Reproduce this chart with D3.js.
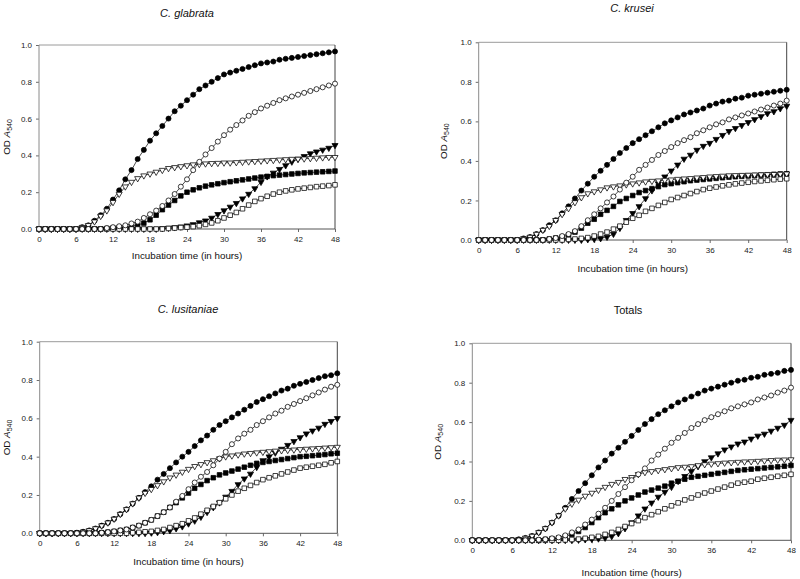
<!DOCTYPE html>
<html><head><meta charset="utf-8">
<script src="https://cdn.jsdelivr.net/npm/d3@7/dist/d3.min.js"></script>
<style>
html,body{margin:0;padding:0;background:#fff;}
svg{display:block;font-family:"Liberation Sans",Arial,Helvetica,sans-serif;}
</style></head>
<body>
<svg id="chart" width="800" height="579"></svg>
<script>
// ---------------- data ----------------
const hours = [0,1,2,3,4,5,6,7,8,9,10,11,12,13,14,15,16,17,18,19,20,21,22,23,24,
  25,26,27,28,29,30,31,32,33,34,35,36,37,38,39,40,41,42,43,44,45,46,47,48];
const xTicks = [0,6,12,18,24,30,36,42,48];
const yTicks = [0,0.2,0.4,0.6,0.8,1.0];

// C. glabrata
const glabrataFilledCircle = [0,0,0,0,0,0,0,0.01,0.02,0.045,0.075,0.11,
  0.16,0.21,0.27,0.32,0.38,0.43,0.48,0.52,0.56,0.60,0.64,0.67,
  0.70,0.73,0.76,0.78,0.80,0.82,0.84,0.85,0.86,0.87,0.88,0.89,
  0.90,0.905,0.91,0.92,0.925,0.93,0.935,0.94,0.945,0.95,0.955,0.96,0.965];
const glabrataOpenCircle = [0,0,0,0,0,0,0,0,0,0,0,0.005,
  0.01,0.015,0.02,0.03,0.04,0.06,0.08,0.10,0.125,0.155,0.19,0.23,
  0.27,0.32,0.365,0.405,0.44,0.475,0.51,0.54,0.565,0.59,0.615,0.635,
  0.655,0.67,0.685,0.70,0.71,0.72,0.73,0.74,0.75,0.76,0.77,0.78,0.79];
const glabrataFilledTriangle = [0,0,0,0,0,0,0,0,0,0,0,0,
  0,0,0,0,0,0,0,0,0.003,0.005,0.008,0.012,
  0.018,0.025,0.035,0.045,0.06,0.08,0.10,0.12,0.14,0.165,0.19,0.22,
  0.255,0.285,0.305,0.325,0.345,0.365,0.38,0.395,0.41,0.42,0.43,0.44,0.455];
const glabrataOpenTriangle = [0,0,0,0,0,0,0,0.01,0.02,0.04,0.07,0.10,
  0.145,0.19,0.23,0.255,0.275,0.29,0.30,0.31,0.32,0.33,0.335,0.34,
  0.345,0.35,0.352,0.355,0.357,0.358,0.36,0.36,0.362,0.364,0.366,0.368,
  0.37,0.372,0.374,0.376,0.378,0.38,0.381,0.382,0.384,0.386,0.388,0.39,0.39];
const glabrataFilledSquare = [0,0,0,0,0,0,0,0,0,0,0,0.003,
  0.005,0.008,0.01,0.015,0.022,0.032,0.05,0.075,0.105,0.13,0.155,0.18,
  0.2,0.213,0.224,0.233,0.24,0.246,0.252,0.257,0.262,0.267,0.272,0.277,
  0.282,0.286,0.29,0.293,0.296,0.299,0.302,0.305,0.307,0.309,0.311,0.313,0.315];
const glabrataOpenSquare = [0,0,0,0,0,0,0,0,0,0,0,0,
  0,0,0,0,0,0,0,0,0,0.003,0.005,0.008,
  0.01,0.013,0.018,0.025,0.033,0.045,0.06,0.075,0.09,0.11,0.13,0.15,
  0.165,0.178,0.19,0.2,0.207,0.213,0.218,0.222,0.226,0.23,0.233,0.236,0.24];

// C. krusei
const kruseiFilledCircle = [0,0,0,0,0,0,0,0.008,0.015,0.03,0.05,0.075,
  0.10,0.135,0.17,0.21,0.25,0.285,0.32,0.35,0.38,0.41,0.44,0.465,
  0.49,0.51,0.53,0.55,0.57,0.59,0.605,0.62,0.635,0.645,0.655,0.665,
  0.68,0.69,0.70,0.705,0.715,0.72,0.73,0.735,0.74,0.745,0.75,0.755,0.76];
const kruseiOpenCircle = [0,0,0,0,0,0,0,0,0,0,0,0.005,
  0.01,0.02,0.03,0.045,0.07,0.10,0.13,0.16,0.19,0.22,0.255,0.29,
  0.32,0.355,0.38,0.405,0.43,0.45,0.47,0.49,0.505,0.52,0.54,0.555,
  0.57,0.585,0.595,0.61,0.62,0.63,0.64,0.65,0.66,0.67,0.68,0.69,0.705];
const kruseiFilledTriangle = [0,0,0,0,0,0,0,0,0,0,0,0,
  0,0,0,0,0,0.003,0.005,0.008,0.015,0.03,0.06,0.10,
  0.135,0.17,0.21,0.25,0.285,0.32,0.35,0.38,0.41,0.43,0.455,0.475,
  0.49,0.51,0.53,0.55,0.565,0.58,0.595,0.61,0.625,0.64,0.65,0.665,0.678];
const kruseiOpenTriangle = [0,0,0,0,0,0,0,0.008,0.015,0.03,0.05,0.07,
  0.10,0.13,0.16,0.19,0.215,0.235,0.245,0.255,0.265,0.27,0.275,0.28,
  0.285,0.29,0.295,0.298,0.30,0.303,0.305,0.308,0.31,0.312,0.315,0.317,
  0.32,0.322,0.324,0.326,0.327,0.328,0.329,0.33,0.331,0.332,0.333,0.334,0.335];
const kruseiFilledSquare = [0,0,0,0,0,0,0,0,0,0,0,0.005,
  0.01,0.015,0.025,0.04,0.06,0.085,0.105,0.13,0.15,0.17,0.195,0.21,
  0.225,0.24,0.25,0.26,0.27,0.28,0.285,0.29,0.295,0.30,0.303,0.306,
  0.309,0.312,0.315,0.318,0.32,0.322,0.324,0.326,0.328,0.33,0.332,0.334,0.335];
const kruseiOpenSquare = [0,0,0,0,0,0,0,0,0,0,0,0,
  0,0,0.003,0.005,0.008,0.012,0.02,0.03,0.04,0.055,0.07,0.09,
  0.11,0.125,0.145,0.16,0.175,0.19,0.205,0.215,0.225,0.235,0.245,0.255,
  0.262,0.268,0.274,0.279,0.284,0.288,0.292,0.296,0.299,0.302,0.305,0.308,0.31];

// C. lusitaniae
const lusitaniaeFilledCircle = [0,0,0,0,0,0,0.003,0.008,0.015,0.025,0.04,0.055,
  0.075,0.10,0.125,0.155,0.185,0.215,0.245,0.28,0.31,0.34,0.37,0.40,
  0.425,0.455,0.485,0.51,0.54,0.565,0.585,0.605,0.625,0.645,0.665,0.685,
  0.70,0.715,0.73,0.745,0.755,0.77,0.78,0.79,0.80,0.81,0.82,0.825,0.835];
const lusitaniaeOpenCircle = [0,0,0,0,0,0,0,0,0,0,0.003,0.006,
  0.01,0.015,0.02,0.03,0.04,0.055,0.07,0.09,0.11,0.135,0.165,0.195,
  0.23,0.265,0.295,0.32,0.355,0.39,0.425,0.465,0.495,0.52,0.54,0.565,
  0.585,0.605,0.625,0.64,0.66,0.675,0.69,0.705,0.72,0.735,0.75,0.765,0.775];
const lusitaniaeFilledTriangle = [0,0,0,0,0,0,0,0,0,0,0,0,
  0,0,0,0,0,0,0.003,0.005,0.01,0.015,0.025,0.035,
  0.05,0.065,0.085,0.11,0.135,0.16,0.19,0.22,0.255,0.285,0.31,0.345,
  0.38,0.40,0.42,0.44,0.46,0.48,0.50,0.52,0.535,0.55,0.57,0.585,0.60];
const lusitaniaeOpenTriangle = [0,0,0,0,0,0,0.003,0.008,0.015,0.025,0.04,0.055,
  0.075,0.10,0.125,0.155,0.185,0.21,0.23,0.25,0.27,0.29,0.305,0.32,
  0.335,0.35,0.36,0.37,0.38,0.39,0.40,0.405,0.41,0.415,0.418,0.421,
  0.424,0.427,0.43,0.432,0.434,0.436,0.438,0.44,0.442,0.444,0.446,0.448,0.45];
const lusitaniaeFilledSquare = [0,0,0,0,0,0,0,0,0,0,0.003,0.006,
  0.01,0.015,0.02,0.03,0.04,0.055,0.07,0.09,0.11,0.135,0.16,0.185,
  0.21,0.235,0.255,0.275,0.29,0.305,0.315,0.325,0.335,0.345,0.355,0.365,
  0.37,0.375,0.38,0.385,0.39,0.395,0.40,0.402,0.405,0.408,0.411,0.415,0.418];
const lusitaniaeOpenSquare = [0,0,0,0,0,0,0,0,0,0,0,0,
  0,0,0,0.003,0.005,0.008,0.01,0.015,0.02,0.03,0.04,0.05,
  0.065,0.08,0.10,0.12,0.14,0.16,0.18,0.20,0.22,0.235,0.25,0.265,
  0.28,0.29,0.30,0.31,0.32,0.33,0.34,0.345,0.35,0.355,0.36,0.368,0.375];

// Totals
const totalsFilledCircle = [0,0,0,0,0,0,0,0.005,0.012,0.022,0.04,0.06,
  0.09,0.125,0.165,0.21,0.25,0.29,0.33,0.37,0.405,0.44,0.47,0.50,
  0.53,0.56,0.59,0.615,0.64,0.66,0.68,0.70,0.715,0.73,0.745,0.76,
  0.77,0.78,0.79,0.80,0.81,0.815,0.825,0.83,0.84,0.845,0.85,0.86,0.865];
const totalsOpenCircle = [0,0,0,0,0,0,0,0,0,0,0.003,0.005,
  0.01,0.015,0.025,0.04,0.055,0.08,0.105,0.135,0.165,0.2,0.235,0.27,
  0.305,0.335,0.365,0.405,0.435,0.465,0.495,0.52,0.545,0.57,0.59,0.61,
  0.625,0.64,0.655,0.67,0.68,0.69,0.70,0.715,0.725,0.735,0.75,0.76,0.775];
const totalsFilledTriangle = [0,0,0,0,0,0,0,0,0,0,0,0,
  0,0,0,0,0.002,0.004,0.006,0.008,0.012,0.02,0.035,0.06,
  0.09,0.125,0.16,0.19,0.22,0.245,0.27,0.30,0.325,0.35,0.375,0.40,
  0.42,0.44,0.46,0.475,0.49,0.50,0.515,0.53,0.54,0.555,0.57,0.585,0.61];
const totalsOpenTriangle = [0,0,0,0,0,0,0,0.005,0.012,0.022,0.04,0.06,
  0.09,0.125,0.16,0.185,0.205,0.225,0.24,0.255,0.27,0.285,0.295,0.31,
  0.32,0.335,0.345,0.35,0.355,0.36,0.365,0.37,0.372,0.375,0.38,0.385,
  0.388,0.39,0.393,0.395,0.397,0.399,0.40,0.402,0.404,0.406,0.408,0.409,0.41];
const totalsFilledSquare = [0,0,0,0,0,0,0,0,0,0,0,0.005,
  0.008,0.012,0.02,0.03,0.045,0.065,0.09,0.115,0.14,0.16,0.18,0.2,
  0.215,0.23,0.245,0.255,0.265,0.275,0.29,0.30,0.31,0.32,0.325,0.33,
  0.335,0.34,0.345,0.35,0.355,0.358,0.361,0.364,0.367,0.37,0.373,0.376,0.38];
const totalsOpenSquare = [0,0,0,0,0,0,0,0,0,0,0,0,
  0,0,0.002,0.004,0.006,0.01,0.015,0.02,0.03,0.04,0.055,0.07,
  0.085,0.10,0.115,0.13,0.145,0.16,0.175,0.19,0.205,0.215,0.23,0.24,
  0.25,0.26,0.27,0.28,0.29,0.295,0.30,0.31,0.315,0.32,0.325,0.33,0.335];

const panelTitles = ["C. glabrata","C. krusei","C. lusitaniae","Totals"];
const xAxisLabels = ["Incubation time (in hours)","Incubation time (in hours)",
                     "Incubation time (in hours)","Incubation time (hours)"];

// ---------------- layout ----------------
const panels = [
  {title:panelTitles[0], italic:true, xlab:xAxisLabels[0],
   l:39, r:335, t:45, b:229, tx:187, ty:17, xly:259, yLabX:10,
   data:[glabrataFilledCircle,glabrataOpenCircle,glabrataFilledTriangle,glabrataOpenTriangle,glabrataFilledSquare,glabrataOpenSquare]},
  {title:panelTitles[1], italic:true, xlab:xAxisLabels[1],
   l:478.7, r:786.7, t:42.3, b:240, tx:632, ty:11.5, xly:272, yLabX:447,
   data:[kruseiFilledCircle,kruseiOpenCircle,kruseiFilledTriangle,kruseiOpenTriangle,kruseiFilledSquare,kruseiOpenSquare]},
  {title:panelTitles[2], italic:true, xlab:xAxisLabels[2],
   l:39.7, r:337.3, t:341.7, b:533.3, tx:188, ty:313, xly:565, yLabX:10,
   data:[lusitaniaeFilledCircle,lusitaniaeOpenCircle,lusitaniaeFilledTriangle,lusitaniaeOpenTriangle,lusitaniaeFilledSquare,lusitaniaeOpenSquare]},
  {title:panelTitles[3], italic:false, xlab:xAxisLabels[3],
   l:472.3, r:791, t:343.3, b:540.3, tx:628, ty:314, xly:575.5, yLabX:441,
   data:[totalsFilledCircle,totalsOpenCircle,totalsFilledTriangle,totalsOpenTriangle,totalsFilledSquare,totalsOpenSquare]}
];

// marker styles: index matches data order
const markerStyles = [
  {type:d3.symbolCircle,   size:20, fill:"#000", rot:0},
  {type:d3.symbolCircle,   size:20, fill:"#fff", rot:0},
  {type:d3.symbolTriangle, size:16, fill:"#000", rot:180},
  {type:d3.symbolTriangle, size:16, fill:"#fff", rot:180},
  {type:d3.symbolSquare,   size:21, fill:"#000", rot:0},
  {type:d3.symbolSquare,   size:21, fill:"#fff", rot:0}
];
const drawOrder = [0,2,4,3,5,1];

const svg = d3.select("#chart");

panels.forEach(p => {
  const g = svg.append("g");
  const x = d3.scaleLinear().domain([0,48]).range([p.l,p.r]);
  const y = d3.scaleLinear().domain([0,1]).range([p.b,p.t]);

  // title
  g.append("text").attr("x",p.tx).attr("y",p.ty).attr("text-anchor","middle")
    .attr("font-size",11).attr("font-style",p.italic?"italic":"normal")
    .attr("fill","#111").text(p.title);

  // axes
  const xa = g.append("g").attr("transform",`translate(0,${p.b})`)
    .call(d3.axisBottom(x).tickValues(xTicks).tickSize(3).tickPadding(4).tickFormat(d3.format("d")));
  const ya = g.append("g").attr("transform",`translate(${p.l},0)`)
    .call(d3.axisLeft(y).tickValues(yTicks).tickSize(3).tickPadding(4).tickFormat(d3.format(".1f")));
  [xa,ya].forEach(a=>{
    a.select(".domain").remove();
    a.selectAll(".tick line").attr("stroke","#444").attr("stroke-width",0.8);
    a.selectAll(".tick text").attr("font-size",8).attr("fill","#222")
      .attr("font-family","'Liberation Sans',Arial,sans-serif");
  });

  // frame
  g.append("line").attr("x1",p.l).attr("x2",p.r).attr("y1",p.t).attr("y2",p.t).attr("stroke","#9a9a9a").attr("stroke-width",1);
  g.append("line").attr("x1",p.l).attr("x2",p.l).attr("y1",p.t).attr("y2",p.b).attr("stroke","#8a8a8a").attr("stroke-width",1);
  g.append("line").attr("x1",p.l).attr("x2",p.r).attr("y1",p.b).attr("y2",p.b).attr("stroke","#555").attr("stroke-width",1);
  g.append("line").attr("x1",p.r).attr("x2",p.r).attr("y1",p.t).attr("y2",p.b).attr("stroke","#444").attr("stroke-width",1);

  // x label
  g.append("text").attr("x",(p.l+p.r)/2).attr("y",p.xly).attr("text-anchor","middle")
    .attr("font-size",9.8).attr("fill","#111").text(p.xlab);

  // y label
  const yl = g.append("text")
    .attr("transform",`translate(${p.yLabX},${(p.t+p.b)/2}) rotate(-90)`)
    .attr("text-anchor","middle").attr("font-size",9.8).attr("fill","#111");
  yl.append("tspan").text("OD ");
  yl.append("tspan").attr("font-style","italic").text("A");
  yl.append("tspan").attr("font-size",7).attr("dy",2).text("540");

  // lines
  const line = d3.line().x((d,i)=>x(hours[i])).y(d=>y(d));
  drawOrder.forEach(si=>{
    g.append("path").datum(p.data[si]).attr("d",line)
      .attr("fill","none").attr("stroke","#000").attr("stroke-width",0.7);
  });
  // markers
  drawOrder.forEach(si=>{
    const st = markerStyles[si];
    const sym = d3.symbol().type(st.type).size(st.size);
    g.append("g").selectAll("path").data(p.data[si]).join("path")
      .attr("d",sym)
      .attr("transform",(d,i)=>`translate(${x(hours[i])},${y(d)}) rotate(${st.rot})`)
      .attr("fill",st.fill).attr("stroke","#000").attr("stroke-width",0.75);
  });
});
</script>
</body></html>
